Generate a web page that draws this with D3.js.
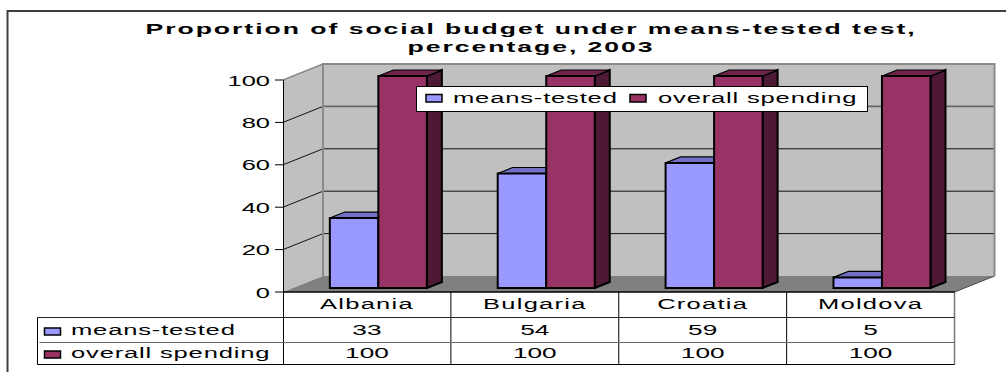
<!DOCTYPE html>
<html>
<head>
<meta charset="utf-8">
<script src="https://cdn.jsdelivr.net/npm/d3@7/dist/d3.min.js"></script>
<style>
html, body { margin: 0; padding: 0; background: #fff; }
svg { display: block; }
text { font-family: "Liberation Sans", Arial, sans-serif; fill: #000; }
</style>
</head>
<body>
<svg id="chart" width="1006" height="372"></svg>
<script>
// Chart data
const categories = ["Albania", "Bulgaria", "Croatia", "Moldova"];
const seriesNames = ["means-tested", "overall spending"];
const meansTested = [33, 54, 59, 5];
const overallSpending = [100, 100, 100, 100];
const yTicks = [0, 20, 40, 60, 80, 100];
const titleLines = ["Proportion of social budget under means-tested test,", "percentage, 2003"];

const seriesValues = [meansTested, overallSpending];
const face = [
  { front: "#9999ff", top: "#7070c4", side: "#4f4f8c" },
  { front: "#993366", top: "#6e2349", side: "#4d1933" }
];

const svg = d3.select("#chart");

// Oblique projection: depth 0 is the front plane, depth 1 the back wall
const depthX = 40, depthY = -16;
const x = d3.scaleBand().domain(categories).range([283, 954.5]);
const inner = d3.scaleBand().domain(d3.range(seriesNames.length))
  .range([0, x.bandwidth()]).paddingOuter(0.73).align(0.52);
const yFront = d3.scaleLinear().domain([0, 100]).range([292, 80]);
const project = (px, py, d) => [px + d * depthX, py + d * depthY];
const poly = pts => pts.map(p => p.join(",")).join(" ");

// Stretched text, written with a horizontal scale about its anchor point
function label(px, py, str, opts = {}) {
  const sx = opts.sx ?? 1.65;
  svg.append("text")
    .attr("transform", `translate(${px},${py}) scale(${sx},1)`)
    .attr("text-anchor", opts.anchor ?? "middle")
    .attr("font-size", opts.size ?? 15)
    .attr("font-weight", opts.weight ?? "normal")
    .attr("letter-spacing", opts.spacing ?? 0.5)
    .text(str);
}

// Outer frame, open on the right and at the bottom
svg.append("path").attr("d", "M7.5,372V11H1006")
  .attr("fill", "none").attr("stroke", "#404040").attr("stroke-width", 2);

// Title
titleLines.forEach((t, i) => label(531, 34 + i * 18, t,
  { size: 14, weight: "bold", sx: 1.9, spacing: 1.03 }));

// Walls and floor
const [x0, x1] = x.range();
const yTop = yFront(100), yBase = yFront(0);
svg.append("polygon")
  .attr("points", poly([project(x0, yBase, 1), project(x0, yTop, 1), project(x1, yTop, 1), project(x1, yBase, 1)]))
  .attr("fill", "#c0c0c0");
svg.append("polygon")
  .attr("points", poly([[x0, yBase], [x0, yTop], project(x0, yTop, 1), project(x0, yBase, 1)]))
  .attr("fill", "#c0c0c0");
svg.append("polygon")
  .attr("points", poly([[x0, yBase], [x1, yBase], project(x1, yBase, 1), project(x0, yBase, 1)]))
  .attr("fill", "#808080");

// Gridlines across both walls
yTicks.filter(t => t > 0 && t < 100).forEach(t => {
  const yy = yFront(t);
  const heavy = t === 80;
  svg.append("polyline")
    .attr("points", poly([project(x0, yy, 1), project(x1, yy, 1)]))
    .attr("fill", "none")
    .attr("stroke", heavy ? "#666" : "#111")
    .attr("stroke-width", heavy ? 1.6 : 1);
  svg.append("line")
    .datum(project(x0, yy, 1))
    .attr("x1", x0).attr("y1", yy)
    .attr("x2", d => d[0]).attr("y2", d => d[1])
    .attr("stroke", "#111");
});

// Wall edges
svg.append("polyline")
  .attr("points", poly([project(x0, yBase, 1), project(x0, yTop, 1), project(x1, yTop, 1), project(x1, yBase, 1)]))
  .attr("fill", "none").attr("stroke", "#8a8a8a").attr("stroke-width", 2);
svg.append("polyline")
  .attr("points", poly([[x0, yTop], project(x0, yTop, 1)]))
  .attr("fill", "none").attr("stroke", "#8a8a8a").attr("stroke-width", 1.5);
svg.append("line")
  .attr("x1", x1).attr("y1", yBase)
  .attr("x2", project(x1, yBase, 1)[0]).attr("y2", project(x1, yBase, 1)[1])
  .attr("stroke", "#444");

// Value axis
svg.append("line").attr("x1", x0 + 0.5).attr("x2", x0 + 0.5).attr("y1", yTop).attr("y2", yBase)
  .attr("stroke", "#000");
yTicks.forEach(t => {
  svg.append("line").attr("x1", x0 - 8).attr("x2", x0).attr("y1", yFront(t)).attr("y2", yFront(t))
    .attr("stroke", "#000");
  label(x0 - 13, yFront(t) + 5.5, String(t), { anchor: "end", size: 15, sx: 1.7, spacing: 0 });
});

// Bars sit a quarter of the way into the depth and span 0.375 of it
const barStart = 0.25, barDepth = 0.375;
categories.forEach((c, ci) => {
  seriesValues.forEach((vals, si) => {
    const left = x(c) + inner(si);
    const right = left + inner.bandwidth();
    const bottom = yFront(0);
    const top = yFront(vals[ci]);
    const a = (px, py) => project(px, py, barStart);
    const b = (px, py) => project(px, py, barStart + barDepth);
    const g = svg.append("g")
      .attr("stroke", "#000").attr("stroke-width", 2).attr("stroke-linejoin", "miter");
    g.append("polygon").attr("fill", face[si].side)
      .attr("points", poly([a(right, bottom), a(right, top), b(right, top), b(right, bottom)]));
    g.append("polygon").attr("fill", face[si].top).attr("stroke-width", 1.2)
      .attr("points", poly([a(left, top), b(left, top), b(right, top), a(right, top)]));
    g.append("polygon").attr("fill", face[si].front)
      .attr("points", poly([a(left, bottom), a(left, top), a(right, top), a(right, bottom)]));
  });
});

// Legend over the plot
svg.append("rect").attr("x", 416.5).attr("y", 86.5).attr("width", 451).attr("height", 25)
  .attr("fill", "#fff").attr("stroke", "#000");
const legendItems = [{ sw: 426, tx: 453 }, { sw: 630, tx: 658 }];
seriesNames.forEach((n, i) => {
  svg.append("rect").attr("x", legendItems[i].sw).attr("y", 94.5).attr("width", 16).attr("height", 7.5)
    .attr("fill", face[i].front).attr("stroke", "#000").attr("stroke-width", 1.5);
  label(legendItems[i].tx, 102.5, n, { anchor: "start", size: 15.5 });
});

// Data table under the category axis
const rowY = [292, 317.5, 342.5, 364.5];
const tableLeft = 37.5;
x.domain().forEach((c, i) => {
  const lx = x(c) + (i === 0 ? 0.5 : 0);
  svg.append("line").attr("x1", lx).attr("x2", lx).attr("y1", rowY[0]).attr("y2", rowY[3]).attr("stroke", "#000");
});
svg.append("line").attr("x1", x1).attr("x2", x1).attr("y1", rowY[0]).attr("y2", rowY[3])
  .attr("stroke", "#777").attr("stroke-width", 1.5);
svg.append("line").attr("x1", x0).attr("x2", x1).attr("y1", 292).attr("y2", 292).attr("stroke", "#000").attr("stroke-width", 1.5);
svg.append("line").attr("x1", tableLeft).attr("x2", x1).attr("y1", rowY[1]).attr("y2", rowY[1]).attr("stroke", "#222");
svg.append("line").attr("x1", tableLeft + 2).attr("x2", x1).attr("y1", rowY[2]).attr("y2", rowY[2]).attr("stroke", "#666");
svg.append("line").attr("x1", tableLeft).attr("x2", x1).attr("y1", rowY[3]).attr("y2", rowY[3]).attr("stroke", "#000");
svg.append("line").attr("x1", tableLeft).attr("x2", tableLeft).attr("y1", rowY[1]).attr("y2", rowY[3]).attr("stroke", "#000");

categories.forEach((c, i) => {
  const cx = x(c) + x.bandwidth() / 2;
  label(cx, 309, c, { size: 15, sx: 1.7, spacing: 0.75 });
  label(cx, 335, String(meansTested[i]), { size: 15, sx: 1.75, spacing: 0 });
  label(cx, 358, String(overallSpending[i]), { size: 15, sx: 1.75, spacing: 0 });
});
seriesNames.forEach((n, i) => {
  const ry = [335, 358][i];
  svg.append("rect").attr("x", 44.5).attr("y", ry - 7).attr("width", 16).attr("height", 7)
    .attr("fill", face[i].front).attr("stroke", "#000").attr("stroke-width", 1.5);
  label(71, ry, n, { anchor: "start", size: 15.5 });
});
</script>
</body>
</html>
